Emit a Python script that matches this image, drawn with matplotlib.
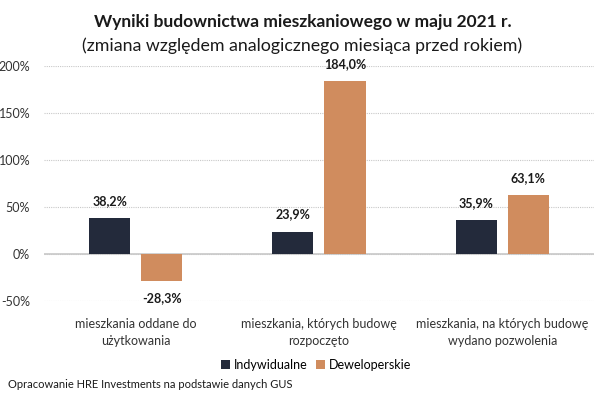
import matplotlib.pyplot as plt
import numpy as np

categories = ["mieszkania oddane do\nużytkowania",
              "mieszkania, których budowę\nrozpoczęto",
              "mieszkania, na których budowę\nwydano pozwolenia"]
indywidualne = [38.2, 23.9, 35.9]
deweloperskie = [-28.3, 184.0, 63.1]
series_names = ["Indywidualne", "Deweloperskie"]
yticks = [-50, 0, 50, 100, 150, 200]

plt.rcParams['font.family'] = ['Lato', 'DejaVu Sans']

fig = plt.figure(figsize=(6.05, 3.96), dpi=100)
ax = fig.add_axes([0.0727, 0.2399, 0.9091, 0.5934])

col_dark = "#232a3b"
col_orange = "#d08c5e"
x = np.arange(len(categories))
w = 0.224
off = 0.142

b1 = ax.bar(x - off, indywidualne, w, color=col_dark, label=series_names[0], zorder=3)
b2 = ax.bar(x + off, deweloperskie, w, color=col_orange, label=series_names[1], zorder=3)

for bars in (b1, b2):
    for r in bars:
        v = r.get_height()
        lab = f"{v:.1f}%".replace(".", ",")
        xc = r.get_x() + r.get_width() / 2
        if v >= 0:
            ax.annotate(lab, (xc, v), xytext=(0, 8), textcoords="offset points",
                        ha="center", va="bottom", fontsize=9, fontweight="bold", color="#1a1a1a")
        else:
            ax.annotate(lab, (xc, v), xytext=(0, -8), textcoords="offset points",
                        ha="center", va="top", fontsize=9, fontweight="bold", color="#1a1a1a")

ax.set_xlim(-0.5, 2.5)
ax.set_ylim(-50, 200)
ax.set_yticks(yticks)
ax.set_yticklabels([f"{t}%" for t in yticks], fontsize=9, color="#333333")
ax.set_xticks(x)
ax.set_xticklabels(categories, fontsize=9, color="#333333", linespacing=1.5)
ax.tick_params(axis="both", length=0)
ax.tick_params(axis="x", pad=12)
ax.tick_params(axis="y", pad=10)
for s in ax.spines.values():
    s.set_visible(False)
ax.grid(axis="y", color="#c8c8c8", linestyle=(0, (1, 1)), linewidth=0.8, zorder=0)
ax.axhline(0, color="#c8c8c8", linewidth=1.2, zorder=1)

fig.text(0.5, 1 - 22 / 396, "Wyniki budownictwa mieszkaniowego w maju 2021 r.",
         ha="center", va="center", fontsize=12.5, fontweight="bold", color="#1a1a1a")
fig.text(0.5, 1 - 46 / 396, "(zmiana względem analogicznego miesiąca przed rokiem)",
         ha="center", va="center", fontsize=12.8, color="#1a1a1a")

fig.legend(handles=[b1, b2], loc="center", bbox_to_anchor=(316 / 605, 1 - 365 / 396),
           ncol=2, frameon=False, fontsize=9, handlelength=0.7, handleheight=0.7,
           handletextpad=0.3, columnspacing=0.7)

fig.text(8 / 605, 1 - 384 / 396, "Opracowanie HRE Investments na podstawie danych GUS",
         ha="left", va="center", fontsize=8, color="#1a1a1a")

fig.savefig("out.png", dpi=100)
